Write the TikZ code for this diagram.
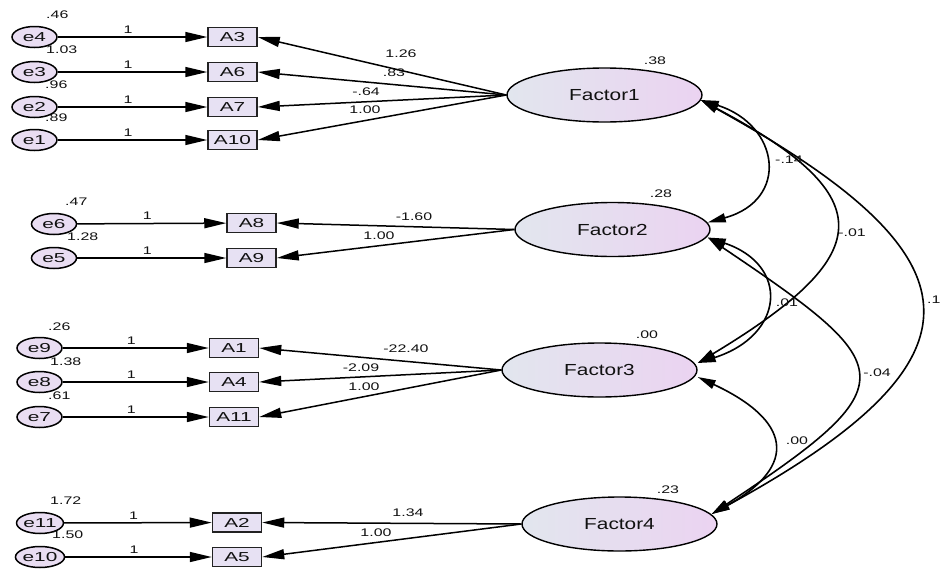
\documentclass[tikz,border=0pt]{standalone}
\usepackage{fontspec}
\setmainfont{Liberation Sans}
\usepackage{graphicx}
\usetikzlibrary{shapes.geometric,arrows.meta,calc}
\definecolor{txt}{HTML}{111111}
\definecolor{errfill}{HTML}{E9DDF2}
\definecolor{boxfill}{HTML}{E7E1F3}
\definecolor{boxline}{HTML}{222222}
\definecolor{facL}{HTML}{E2E6EE}
\definecolor{facR}{HTML}{EBD3F1}
\newcommand{\sxl}[1]{\scalebox{1.45}[1]{#1}}
\newcommand{\sxb}[1]{\scalebox{1.6}[1]{#1}}
\newcommand{\sxf}[1]{\scalebox{1.3}[1]{#1}}
\tikzset{
  lab/.style={font=\fontsize{11}{12}\selectfont, inner sep=0pt, text=txt},
  err/.style={ellipse, draw=black, line width=1.5pt, fill=errfill, minimum width=45pt, minimum height=21pt, inner sep=0pt, font=\fontsize{13}{14}\selectfont, text=txt},
  obs/.style={rectangle, draw=boxline, line width=1.5pt, fill=boxfill, minimum width=49pt, minimum height=19pt, inner sep=0pt, font=\fontsize{13}{14}\selectfont, text=txt},
  fac/.style={ellipse, draw=black, line width=1.4pt, left color=facL, right color=facR, minimum width=195pt, minimum height=54pt, inner sep=0pt, font=\fontsize{16}{18}\selectfont, text=txt},
  ld/.style={line width=1.5pt, -{Triangle[length=22pt,width=10pt]}},
  one/.style={lab, above=3pt, pos=0.47},
  cov/.style={line width=1.6pt, {Triangle[length=18pt,width=9pt]}-{Triangle[length=18pt,width=9pt]}},
}
\begin{document}
\begin{tikzpicture}[x=1pt,y=-1pt]
\useasboundingbox (0,0) rectangle (943,571);
% ---------- group 1
\node[err] (e4) at (34.5,37) {\sxb{e4}};
\node[err] (e3) at (34.5,72) {\sxb{e3}};
\node[err] (e2) at (34.5,107) {\sxb{e2}};
\node[err] (e1) at (34.5,140) {\sxb{e1}};
\node[obs] (A3) at (232.5,37) {\sxb{A3}};
\node[obs] (A6) at (232.5,72) {\sxb{A6}};
\node[obs] (A7) at (232.5,107) {\sxb{A7}};
\node[obs] (A10) at (232.5,140) {\sxb{A10}};
\node[fac] (F1) at (604.5,95) {\sxf{Factor1}};
% ---------- group 2
\node[err] (e6) at (54,224) {\sxb{e6}};
\node[err] (e5) at (54,258) {\sxb{e5}};
\node[obs] (A8) at (251.5,223) {\sxb{A8}};
\node[obs] (A9) at (251.5,258) {\sxb{A9}};
\node[fac] (F2) at (612.5,229.5) {\sxf{Factor2}};
% ---------- group 3
\node[err] (e9) at (39.5,348) {\sxb{e9}};
\node[err] (e8) at (39.5,382) {\sxb{e8}};
\node[err] (e7) at (39.5,417) {\sxb{e7}};
\node[obs] (A1) at (234,348) {\sxb{A1}};
\node[obs] (A4) at (234,382) {\sxb{A4}};
\node[obs] (A11) at (234,417) {\sxb{A11}};
\node[fac] (F3) at (599.5,370) {\sxf{Factor3}};
% ---------- group 4
\node[err] (e11) at (40,523) {\sxb{e11}};
\node[err] (e10) at (40,557) {\sxb{e10}};
\node[obs] (A2) at (237,522.5) {\sxb{A2}};
\node[obs] (A5) at (237,557) {\sxb{A5}};
\node[fac] (F4) at (619.5,524) {\sxf{Factor4}};

% ---------- error paths
\foreach \e/\a in {e4/A3,e3/A6,e2/A7,e1/A10,e6/A8,e5/A9,e9/A1,e8/A4,e7/A11,e11/A2,e10/A5}
  \draw[ld] (\e) -- node[one] (o\e) {\sxl{1}} (\a);

% ---------- loadings
\foreach \a in {A3,A6,A7,A10} \draw[ld] (F1.west) -- (\a.east);
\foreach \a in {A8,A9} \draw[ld] (F2.west) -- (\a.east);
\foreach \a in {A1,A4,A11} \draw[ld] (F3.west) -- (\a.east);
\foreach \a in {A2,A5} \draw[ld] (F4.west) -- (\a.east);

% ---------- variances
\node[lab, anchor=west] (v4) at (46,15) {\sxl{.46}};
\node[lab, anchor=west] (v3) at (46,50) {\sxl{1.03}};
\node[lab, anchor=west] (v2) at (45,85) {\sxl{.96}};
\node[lab, anchor=west] (v1) at (45,118) {\sxl{.89}};
\node[lab, anchor=west] (v6) at (65,202) {\sxl{.47}};
\node[lab, anchor=west] (v5) at (67,237) {\sxl{1.28}};
\node[lab, anchor=west] (v9) at (48,327) {\sxl{.26}};
\node[lab, anchor=west] (v8) at (50,362) {\sxl{1.38}};
\node[lab, anchor=west] (v7) at (48,396) {\sxl{.61}};
\node[lab, anchor=west] (v11) at (50,501) {\sxl{1.72}};
\node[lab, anchor=west] (v10) at (52,535) {\sxl{1.50}};
\node[lab] (vF1) at (655,61) {\sxl{.38}};
\node[lab] (vF2) at (661,194) {\sxl{.28}};
\node[lab] (vF3) at (647,335) {\sxl{.00}};
\node[lab] (vF4) at (668,490) {\sxl{.23}};

% ---------- loading labels
\node[lab] (l1a) at (401,54) {\sxl{1.26}};
\node[lab] (l1b) at (394,73) {\sxl{.83}};
\node[lab] (l1c) at (366,92) {\sxl{-.64}};
\node[lab] (l1d) at (365,110) {\sxl{1.00}};
\node[lab] (l2a) at (414,217) {\sxl{-1.60}};
\node[lab] (l2b) at (379,236) {\sxl{1.00}};
\node[lab] (l3a) at (406,349) {\sxl{-22.40}};
\node[lab] (l3b) at (361,368) {\sxl{-2.09}};
\node[lab] (l3c) at (364,387) {\sxl{1.00}};
\node[lab] (l4a) at (408,513) {\sxl{1.34}};
\node[lab] (l4b) at (376,533) {\sxl{1.00}};

% ---------- covariances
\coordinate (f1r) at ($(F1.east)+(-2,5)$);
\coordinate (f2a) at ($(F2.east)+(-3,-7)$);
\coordinate (f2b) at ($(F2.east)+(-3,8)$);
\coordinate (f3a) at ($(F3.east)+(0,-7)$);
\coordinate (f3b) at ($(F3.east)+(0,7)$);
\coordinate (f4a) at ($(F4.east)+(-6,-10)$);
\draw[cov] (f1r) .. controls (780,125) and (790,200) .. (f2a);
\draw[cov] (f1r) .. controls (885,198) and (875,256) .. (f3a);
\draw[cov] (f1r) .. controls (983,256) and (999,357) .. (f4a);
\draw[cov] (f2b) .. controls (790,265) and (785,335) .. (f3a);
\draw[cov] (f2b) .. controls (900,367) and (910,383) .. (f4a);
\draw[cov] (f3b) .. controls (790,420) and (800,465) .. (f4a);
\node[lab, anchor=west] (c12) at (775,160) {\sxl{-.14}};
\node[lab] (c13) at (852,233) {\sxl{-.01}};
\node[lab] (c23) at (787,303) {\sxl{.01}};
\node[lab] (c24) at (877,373) {\sxl{-.04}};
\node[lab] (c34) at (797,441) {\sxl{.00}};
\node[lab, anchor=west] (c14) at (927,300) {\sxl{.1}};
\end{tikzpicture}
\end{document}
